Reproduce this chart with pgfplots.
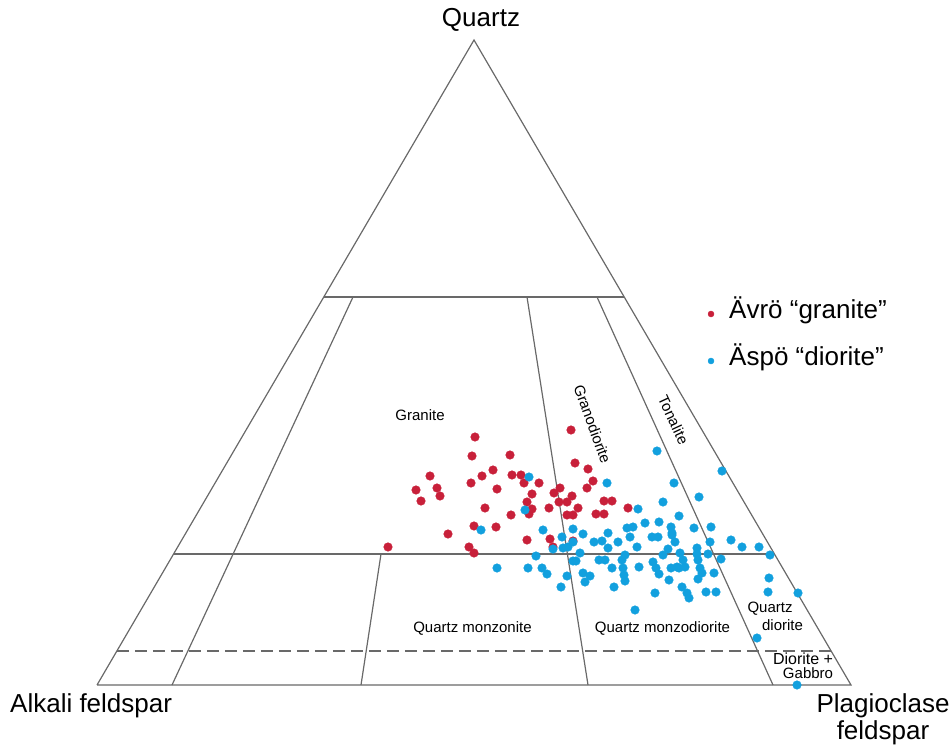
\documentclass[border=0pt]{standalone}
\usepackage{fontspec}
\setmainfont{Liberation Sans}
\usepackage{pgfplots}
\pgfplotsset{compat=1.18}
\definecolor{redpt}{RGB}{200,32,58}
\definecolor{bluept}{RGB}{18,160,222}
\definecolor{ln}{RGB}{105,105,105}
\begin{document}
\begin{tikzpicture}
\begin{axis}[scale only axis, width=952pt, height=749pt,
  xmin=0, xmax=952, ymin=0, ymax=749, y dir=reverse,
  hide axis, clip=false]
\path (axis cs:0,0) rectangle (axis cs:952,749);
% frame and field boundaries
\addplot[ln, line width=1.2pt, mark=none, line join=miter] coordinates {(97,685) (474,40) (851,685) (97,685)};
\addplot[ln, line width=1.2pt, mark=none] coordinates {(323.8,297) (624.2,297)};
\addplot[ln, line width=1.2pt, mark=none] coordinates {(173.6,554) (774.4,554)};
\addplot[ln, line width=1.2pt, mark=none, dash pattern=on 12pt off 6pt] coordinates {(116.9,651) (831.1,651)};
\addplot[ln, line width=1.2pt, mark=none] coordinates {(353,297) (172,685)};
\addplot[ln, line width=1.2pt, mark=none] coordinates {(527,297) (588,685)};
\addplot[ln, line width=1.2pt, mark=none] coordinates {(597,297) (773,685)};
\addplot[ln, line width=1.2pt, mark=none] coordinates {(381,554) (361,685)};
% Avro granite
\addplot[only marks, mark=*, mark size=4.3pt, color=redpt] coordinates {
(475,437) (472,456) (510,455) (430,476) (493,470) (482,476) (471,483) (512,475)
(521,475) (524,483) (539,483) (416,490) (437,488) (440,496) (421,501) (497,489)
(532,494) (527,502) (532,509) (529,514) (549,508) (485,508) (511,515) (554,493)
(560,488) (559,502) (567,502) (572,496) (567,515) (573,515) (474,526) (496,527)
(448,534) (527,540) (550,539) (553,547) (388,547) (469,547) (474,553) (571,430)
(575,463) (588,469) (593,481) (587,488) (578,508) (604,501) (612,501) (596,514)
(604,514) (628,508) (573,541)
};
% Aspo diorite
\addplot[only marks, mark=*, mark size=4.3pt, color=bluept] coordinates {
(529,477) (525,510) (481,530) (543,530) (562,537) (573,529) (573,542) (553,549)
(563,548) (568,547) (536,556) (497,568) (528,568) (542,568) (547,574) (567,576)
(561,587) (576,561) (607,483) (638,509) (663,502) (674,483) (645,523) (659,522)
(671,527) (583,534) (608,533) (627,528) (633,527) (630,537) (652,537) (658,537)
(672,535) (675,542) (594,542) (602,541) (618,542) (608,548) (637,547) (668,549)
(663,555) (580,553) (573,561) (599,560) (605,560) (625,555) (622,560) (612,568)
(623,568) (639,567) (653,562) (656,568) (671,568) (679,568) (583,573) (590,576)
(585,582) (624,575) (625,581) (659,574) (669,580) (614,587) (655,593) (635,610)
(657,451) (722,471) (699,497) (679,516) (672,533) (694,528) (711,527) (731,540)
(710,542) (742,547) (759,547) (770,555) (697,548) (680,553) (697,554) (708,554)
(721,559) (683,560) (677,567) (685,567) (698,560) (700,568) (702,573) (714,573)
(698,579) (682,587) (687,593) (689,598) (706,592) (716,592) (769,578) (768,592)
(798,593) (757,638) (797,685)
};
% legend markers
\addplot[only marks, mark=*, mark size=3pt, color=redpt] coordinates {(711,314)};
\addplot[only marks, mark=*, mark size=3pt, color=bluept] coordinates {(711,361)};
% big labels
\node[anchor=base, font=\fontsize{26}{30}\selectfont] at (axis cs:481,27) {Quartz};
\node[anchor=base west, inner sep=0pt, font=\fontsize{26}{30}\selectfont] at (axis cs:10,712) {Alkali feldspar};
\node[anchor=base, inner sep=0pt, font=\fontsize{26}{30}\selectfont] at (axis cs:883,712) {Plagioclase};
\node[anchor=base, inner sep=0pt, font=\fontsize{26}{30}\selectfont] at (axis cs:883,739) {feldspar};
\node[anchor=base west, inner sep=0pt, font=\fontsize{26}{30}\selectfont] at (axis cs:729,318) {Ävrö “granite”};
\node[anchor=base west, inner sep=0pt, font=\fontsize{26}{30}\selectfont] at (axis cs:729,365) {Äspö “diorite”};
% field labels
\node[anchor=base, inner sep=0pt, font=\fontsize{15}{17}\selectfont] at (axis cs:420,420) {Granite};
\node[inner sep=0pt, rotate=-70, font=\fontsize{15}{17}\selectfont] at (axis cs:592.5,424) {Granodiorite};
\node[inner sep=0pt, rotate=-65, font=\fontsize{15}{17}\selectfont] at (axis cs:673.5,420) {Tonalite};
\node[anchor=base, inner sep=0pt, font=\fontsize{15}{17}\selectfont] at (axis cs:472.5,632) {Quartz monzonite};
\node[anchor=base, inner sep=0pt, font=\fontsize{15}{17}\selectfont] at (axis cs:662.5,632) {Quartz monzodiorite};
\node[anchor=base, inner sep=0pt, font=\fontsize{15}{17}\selectfont] at (axis cs:770,612) {Quartz};
\node[anchor=base, inner sep=0pt, font=\fontsize{15}{17}\selectfont] at (axis cs:782.5,630) {diorite};
\node[anchor=base, inner sep=0pt, font=\fontsize{16}{18}\selectfont] at (axis cs:803,664) {Diorite +};
\node[anchor=base, inner sep=0pt, font=\fontsize{15}{17}\selectfont] at (axis cs:808,678) {Gabbro};
\end{axis}
\end{tikzpicture}
\end{document}
